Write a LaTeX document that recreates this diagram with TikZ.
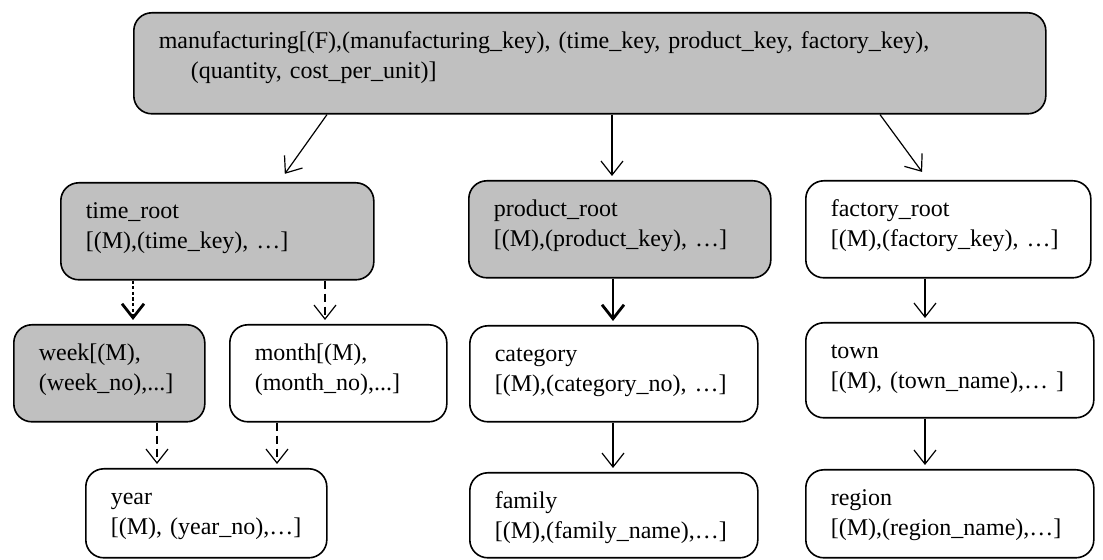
\documentclass[tikz,border=0pt]{standalone}
\usepackage{fontspec}
\setmainfont{Liberation Serif}
\usetikzlibrary{arrows.meta}
\definecolor{silver}{RGB}{192,192,192}

\begin{document}
\begin{tikzpicture}[x=0.5pt,y=-0.5pt,>={Straight Barb[length=7pt,width=11pt]},
    every node/.style={font=\fontsize{12}{15}\selectfont},
    dim/.style={draw,line width=0.8pt,rounded corners=9pt,anchor=north west,
      align=left,inner xsep=12.5pt,inner ysep=0pt,text height=18pt},
    fact/.style={dim,fill=silver},
    conn/.style={->,line width=0.6pt,shorten >=2pt},
    dconn/.style={conn,dash pattern=on 4pt off 2.5pt},
    bconn/.style={conn,line width=1.4pt},
    bdconn/.style={bconn,dash pattern=on 1.6pt off 1.2pt}]
  \useasboundingbox (0,0) rectangle (1103,560);

  % fact table
  \node[fact,text width=431pt,text depth=32.5pt] (man) at (133,12)
    {manufacturing[(F),(manufacturing\_key), (time\_key, product\_key, factory\_key),\\
     \hspace*{16pt}(quantity, cost\_per\_unit)]};

  % roots
  \node[fact,text width=131.5pt,text depth=30.5pt] (time) at (60,182)
    {time\_root\\{}[(M),(time\_key), …]};
  \node[fact,text width=126pt,text depth=30.5pt] (product) at (468,180)
    {product\_root\\{}[(M),(product\_key), …]};
  \node[dim,text width=117.5pt,text depth=30.5pt] (factory) at (805,180)
    {factory\_root\\{}[(M),(factory\_key), …]};

  % levels
  \node[fact,text width=70.5pt,text depth=30.5pt] (week) at (13,324)
    {week[(M),\\(week\_no),...]};
  \node[dim,text width=83.5pt,text depth=30.5pt] (month) at (229,324)
    {month[(M),\\(month\_no),...]};
  \node[dim,text width=119pt,text depth=30pt] (category) at (469,325)
    {category\\{}[(M),(category\_no), …]};
  \node[dim,text width=119pt,text depth=29.5pt] (town) at (805,322)
    {town\\{}[(M), (town\_name),… ]};

  \node[dim,text width=95.5pt,text depth=26.5pt] (year) at (85,468)
    {year\\{}[(M), (year\_no),…]};
  \node[dim,text width=119pt,text depth=24.5pt] (family) at (469,472)
    {family\\{}[(M),(family\_name),…]};
  \node[dim,text width=119pt,text depth=26pt] (region) at (805,469)
    {region\\{}[(M),(region\_name),…]};

  % connectors
  \draw[conn,shorten >=5pt] (327,0 |- man.south) -- (279,0 |- time.north);
  \draw[conn] (612,0 |- man.south) -- (612,0 |- product.north);
  \draw[conn,shorten >=5pt] (880,0 |- man.south) -- (928,0 |- factory.north);

  \draw[bdconn] (133,0 |- time.south) -- (133,0 |- week.north);
  \draw[dconn] (325,0 |- time.south) -- (325,0 |- month.north);
  \draw[dconn] (157,0 |- week.south) -- (157,0 |- year.north);
  \draw[dconn] (277,0 |- month.south) -- (277,0 |- year.north);

  \draw[bconn] (613,0 |- product.south) -- (613,0 |- category.north);
  \draw[conn] (613,0 |- category.south) -- (613,0 |- family.north);

  \draw[conn] (925,0 |- factory.south) -- (925,0 |- town.north);
  \draw[conn] (925,0 |- town.south) -- (925,0 |- region.north);
\end{tikzpicture}
\end{document}
